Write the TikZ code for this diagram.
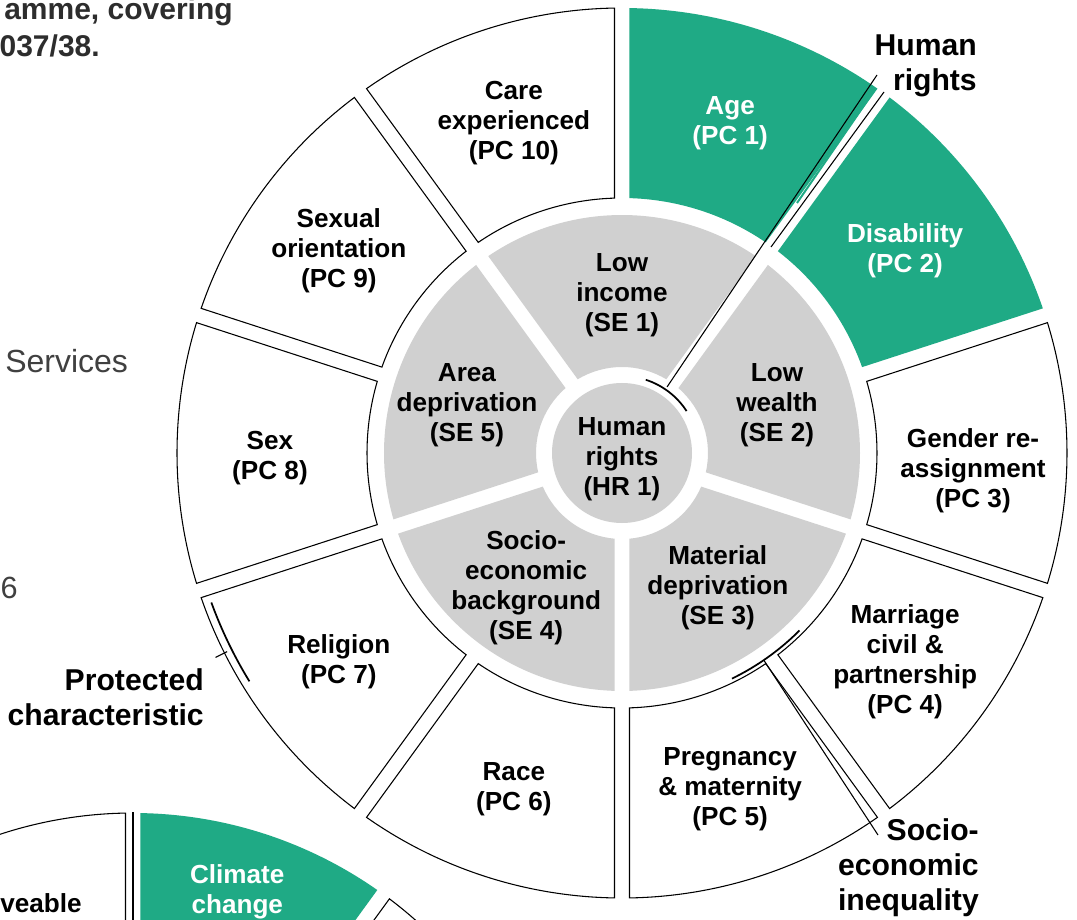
\documentclass[tikz,border=0pt]{standalone}
\usepackage{fontspec}
\setmainfont{Liberation Sans}
\usetikzlibrary{positioning}

\definecolor{wheelgreen}{RGB}{31,170,133}
\definecolor{wheelgrey}{RGB}{208,208,208}
\definecolor{bodygrey}{RGB}{64,64,64}
\definecolor{headgrey}{RGB}{45,45,45}

\tikzset{
  pcseg/.style={draw=black,line width=0.8pt,fill=white},
  pchot/.style={fill=wheelgreen},
  seseg/.style={fill=wheelgrey},
  lbl/.style={align=center,inner sep=0pt,yshift=-2.25pt,font=\fontsize{19.6}{22.5}\selectfont\bfseries},
  hotlbl/.style={lbl,text=white},
  keylbl/.style={align=right,inner sep=0pt,anchor=east,font=\fontsize{22.6}{26.25}\selectfont\bfseries},
  leader/.style={draw=black,line width=0.8pt},
  bracket/.style={draw=black,line width=1.3pt}
}

\begin{document}
\begin{tikzpicture}[x=0.75pt,y=0.75pt]
  \useasboundingbox[fill=white] (-622,-467) rectangle (455,453);

  % second wheel, cut by the lower edge
  \begin{scope}[shift={(-489,-786)}]
    \pgfmathsetmacro{\fO}{asin(7.5/426)}
    \pgfmathsetmacro{\fI}{asin(7.5/244)}
    \foreach \ang/\sty in {108/pcseg,72/pchot,36/pcseg}
      \path[\sty] ({\ang-18+\fO}:426) arc[start angle=\ang-18+\fO, end angle=\ang+18-\fO, radius=426]
        -- ({\ang+18-\fI}:244) arc[start angle=\ang+18-\fI, end angle=\ang-18+\fI, radius=244] -- cycle;
    \coordinate (cctop) at (90:427);
    \coordinate (ccbot) at (90:300);
    \node[hotlbl] (cc) at (73.4:365) {Climate\\change};
  \end{scope}
  \draw[leader] (cctop) -- (ccbot);
  \node[lbl,anchor=base east,yshift=2.25pt] (veable) at (-540,-459) {veable};

  % main wheel
  \pgfmathsetmacro{\dO}{asin(7.5/445)}
  \pgfmathsetmacro{\dI}{asin(7.5/255)}
  \foreach \ang/\sty in {72/pchot,36/pchot,0/pcseg,-36/pcseg,-72/pcseg,-108/pcseg,-144/pcseg,180/pcseg,144/pcseg,108/pcseg}
    \path[\sty] ({\ang-18+\dO}:445) arc[start angle=\ang-18+\dO, end angle=\ang+18-\dO, radius=445]
      -- ({\ang+18-\dI}:255) arc[start angle=\ang+18-\dI, end angle=\ang-18+\dI, radius=255] -- cycle;

  \pgfmathsetmacro{\eO}{asin(7.5/238)}
  \pgfmathsetmacro{\eI}{asin(7.5/86)}
  \foreach \ang in {90,18,-54,-126,162}
    \path[seseg] ({\ang-36+\eO}:238) arc[start angle=\ang-36+\eO, end angle=\ang+36-\eO, radius=238]
      -- ({\ang+36-\eI}:86) arc[start angle=\ang+36-\eI, end angle=\ang-36+\eI, radius=86] -- cycle;
  \fill[wheelgrey] (0,0) circle[radius=70];

  \node[lbl] (hr1) at (0,-3) {Human\\rights\\(HR 1)};
  \node[lbl] (se1) at (90:161) {Low\\income\\(SE 1)};
  \node[lbl] (se2) at (18:163) {Low\\wealth\\(SE 2)};
  \node[lbl] (se3) at (-54:163) {Material\\deprivation\\(SE 3)};
  \node[lbl] (se4) at (-126:163) {Socio-\\economic\\background\\(SE 4)};
  \node[lbl] (se5) at (162:163) {Area\\deprivation\\(SE 5)};

  \node[hotlbl] (pc1) at (72:350) {Age\\(PC 1)};
  \node[hotlbl] (pc2) at (36:350) {Disability\\(PC 2)};
  \node[lbl] (pc3) at (351,-15) {Gender re-\\assignment\\(PC 3)};
  \node[lbl] (pc4) at (-36:350) {Marriage\\civil \&\\partnership\\(PC 4)};
  \node[lbl] (pc5) at (-72:350) {Pregnancy\\\& maternity\\(PC 5)};
  \node[lbl] (pc6) at (-108:350) {Race\\(PC 6)};
  \node[lbl] (pc7) at (-144:350) {Religion\\(PC 7)};
  \node[lbl] (pc8) at (-352,-2) {Sex\\(PC 8)};
  \node[lbl] (pc9) at (144:350) {Sexual\\orientation\\(PC 9)};
  \node[lbl] (pc10) at (108:350) {Care\\experienced\\(PC 10)};

  \node[keylbl] (hrkey) at (355,387) {Human\\rights};
  \node[keylbl] (pckey) at (-418,-244) {Protected\\characteristic};
  \node[keylbl] (sekey) at (357,-415) {Socio-\\economic\\inequality};

  \coordinate (hrfoot) at (255,378);
  \coordinate (hrtip) at (55.7:80);
  \coordinate (sefoot) at (256,-382);
  \coordinate (setip) at (-55.6:251);
  \coordinate (pcfoot) at (-153.3:455);
  \coordinate (pctip) at (-153.3:442);
  \draw[leader] (hrfoot) -- (hrtip);
  \draw[leader] (262,361) -- (149,206);
  \draw[wheelgreen,line width=1.5pt] (252,362) -- (175,250);
  \draw[bracket] (72:77) arc[start angle=72, end angle=33, radius=77];
  \draw[leader] (sefoot) -- (setip);
  \draw[bracket] (-64:251) arc[start angle=-64, end angle=-45, radius=251];
  \draw[leader] (pcfoot) -- (pctip);
  \draw[bracket] (-160:437) arc[start angle=-160, end angle=-148.5, radius=437];

  \node[anchor=base east,inner sep=0pt,text=headgrey,font=\fontsize{22.5}{29}\selectfont\bfseries] (intro1) at (-389,433) {amme, covering};
  \node[anchor=base east,inner sep=0pt,text=headgrey,font=\fontsize{22.5}{29}\selectfont\bfseries] (intro2) at (-522,396) {037/38.};
  \node[anchor=base west,inner sep=0pt,text=bodygrey,font=\fontsize{24}{28}\selectfont] (svc) at (-617,80) {Services};
  \node[anchor=base east,inner sep=0pt,text=bodygrey,font=\fontsize{23}{28}\selectfont] (pagenum) at (-604,-145) {6};
\end{tikzpicture}
\end{document}
